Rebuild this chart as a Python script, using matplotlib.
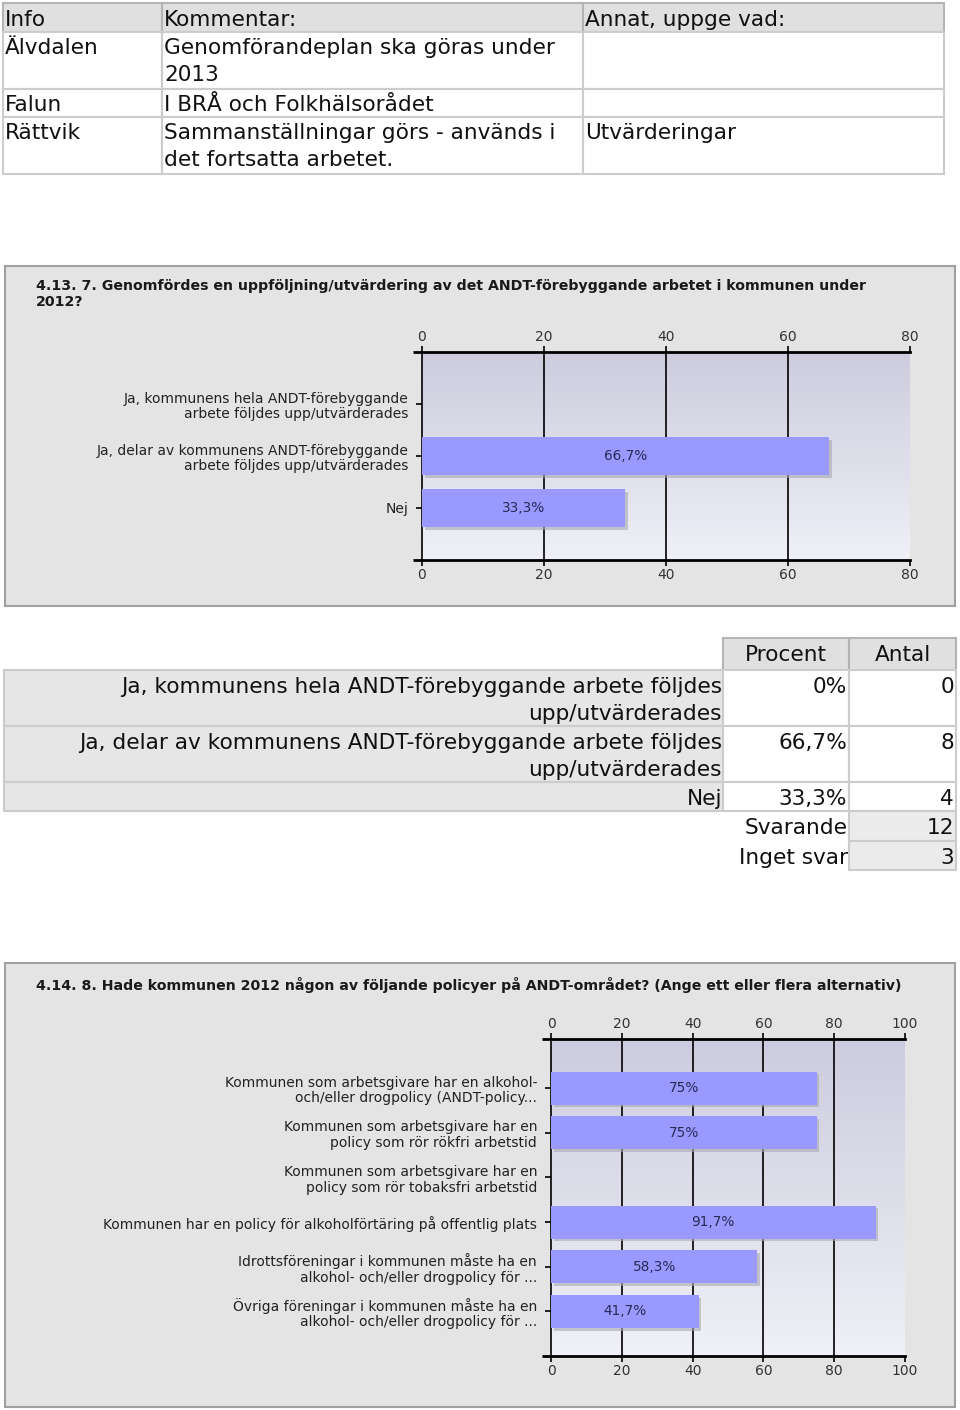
import numpy as np
import matplotlib
matplotlib.use("Agg")
import matplotlib.pyplot as plt
from matplotlib.patches import Rectangle
import matplotlib.patheffects as pe

plt.rcParams['font.family'] = ['DejaVu Sans']

# ---------------- data ----------------
info_header = ["Info", "Kommentar:", "Annat, uppge vad:"]
info_rows = [
    ["Älvdalen", "Genomförandeplan ska göras under\n2013", ""],
    ["Falun", "I BRÅ och Folkhälsorådet", ""],
    ["Rättvik", "Sammanställningar görs - används i\ndet fortsatta arbetet.", "Utvärderingar"],
]

q1_title = "4.13. 7. Genomfördes en uppföljning/utvärdering av det ANDT-förebyggande arbetet i kommunen under\n2012?"
q1_categories = ["Ja, kommunens hela ANDT-förebyggande\narbete följdes upp/utvärderades",
                 "Ja, delar av kommunens ANDT-förebyggande\narbete följdes upp/utvärderades",
                 "Nej"]
q1_values = [0.0, 66.7, 33.3]
q1_labels = ["", "66,7%", "33,3%"]
q1_ticks = [0, 20, 40, 60, 80]

q1_table_labels = ["Ja, kommunens hela ANDT-förebyggande arbete följdes\nupp/utvärderades",
                   "Ja, delar av kommunens ANDT-förebyggande arbete följdes\nupp/utvärderades",
                   "Nej"]
q1_table_pct = ["0%", "66,7%", "33,3%"]
q1_table_n = ["0", "8", "4"]
q1_summary_labels = ["Svarande", "Inget svar"]
q1_summary_values = ["12", "3"]

q2_title = "4.14. 8. Hade kommunen 2012 någon av följande policyer på ANDT-området? (Ange ett eller flera alternativ)"
q2_categories = ["Kommunen som arbetsgivare har en alkohol-\noch/eller drogpolicy (ANDT-policy...",
                 "Kommunen som arbetsgivare har en\npolicy som rör rökfri arbetstid",
                 "Kommunen som arbetsgivare har en\npolicy som rör tobaksfri arbetstid",
                 "Kommunen har en policy för alkoholförtäring på offentlig plats",
                 "Idrottsföreningar i kommunen måste ha en\nalkohol- och/eller drogpolicy för ...",
                 "Övriga föreningar i kommunen måste ha en\nalkohol- och/eller drogpolicy för ..."]
q2_values = [75.0, 75.0, 0.0, 91.7, 58.3, 41.7]
q2_labels = ["75%", "75%", "", "91,7%", "58,3%", "41,7%"]
q2_ticks = [0, 20, 40, 60, 80, 100]

# ---------------- figure ----------------
W, H = 960, 1410
fig = plt.figure(figsize=(W / 100, H / 100), dpi=100)
fig.patch.set_facecolor("white")
bg = fig.add_axes([0, 0, 1, 1])
bg.set_xlim(0, W)
bg.set_ylim(H, 0)
bg.axis("off")

TXT = 15.6
LINE = 27
BORDER = "#cccccc"
TCOL = "#111111"


def cell(x0, y0, x1, y1, fc, ec=BORDER, lw=1.5):
    bg.add_patch(Rectangle((x0, y0), x1 - x0, y1 - y0, facecolor=fc,
                           edgecolor=ec, linewidth=lw, zorder=1))


def lines(x, base, s, ha="left", fs=TXT, step=LINE, **kw):
    for k, ln in enumerate(s.split("\n")):
        if ln:
            bg.text(x, base + k * step, ln, fontsize=fs, ha=ha, va="baseline",
                    color=kw.pop("color", TCOL) if False else kw.get("color", TCOL),
                    fontweight=kw.get("fontweight", "normal"), zorder=3)


# ---------- top table ----------
cols = [3, 162, 583, 944]
rows = [3, 32, 89, 117, 174]
for j in range(3):
    cell(cols[j], rows[0], cols[j + 1], rows[1], "#e0e0e0", ec="#b4b4b4")
    lines(cols[j] + 2, rows[0] + 23, info_header[j])
for i, r in enumerate(info_rows):
    for j in range(3):
        cell(cols[j], rows[i + 1], cols[j + 1], rows[i + 2], "white")
        lines(cols[j] + 2, rows[i + 1] + 22, r[j])


# ---------- chart helper ----------
def gradient_bg(ax, xmax):
    t = np.linspace(0, 1, 256).reshape(256, 1, 1)
    top = np.array([0.80, 0.80, 0.87])
    bot = np.array([0.94, 0.94, 0.97])
    img = np.repeat(top + (bot - top) * t, 2, axis=1)
    y0, y1 = ax.get_ylim()
    ax.imshow(img, extent=[0, xmax, y0, y1], aspect="auto", zorder=0, origin="upper")


def bar_chart(frame, plot, title, title_base, cats, vals, labels, ticks, ylim, bar_h):
    fx0, fy0, fx1, fy1 = frame
    cell(fx0, fy0, fx1, fy1, "#e4e4e4", ec="#a0a0a0", lw=1.5)
    lines(fx0 + 31, title_base, title, fs=10.2, step=16, fontweight="bold", color="#1a1a1a")
    px0, py0, px1, py1 = plot
    # axis lines sticking out to the left
    bg.plot([px0 - 9, px0], [py0, py0], color="black", lw=2, zorder=2, solid_capstyle="butt")
    bg.plot([px0 - 9, px0], [py1, py1], color="black", lw=2, zorder=2, solid_capstyle="butt")
    ax = fig.add_axes([px0 / W, 1 - py1 / H, (px1 - px0) / W, (py1 - py0) / H])
    n = len(cats)
    ax.set_xlim(0, ticks[-1])
    ax.set_ylim(*ylim)
    gradient_bg(ax, ticks[-1])
    for t in ticks[1:-1]:
        ax.axvline(t, color="black", lw=1.2, zorder=1)
    y = np.arange(n)
    bars = ax.barh(y, vals, height=bar_h, color="#9999ff", zorder=3)
    for b in bars:
        b.set_path_effects([pe.SimplePatchShadow(offset=(2, -2), shadow_rgbFace="#a8a8b0", alpha=0.6),
                            pe.Normal()])
    for yi, v, lab in zip(y, vals, labels):
        if lab:
            ax.text(v / 2, yi, lab, ha="center", va="center", fontsize=9.8,
                    color="#2a2a55", zorder=4)
    ax.set_yticks(y)
    ax.set_yticklabels(cats, fontsize=10, color="#222222", linespacing=1.15)
    ax.tick_params(axis="y", length=4, width=1.2, color="black", pad=6)
    ax.set_xticks(ticks)
    ax.tick_params(axis="x", top=True, labeltop=True, bottom=True, labelbottom=True,
                   length=4, width=1.2, labelsize=10, labelcolor="#333333", pad=2)
    for s in ["top", "bottom"]:
        ax.spines[s].set_linewidth(2)
        ax.spines[s].set_color("black")
    ax.spines["left"].set_linewidth(1.2)
    ax.spines["left"].set_color("black")
    ax.spines["right"].set_visible(False)
    return ax


bar_chart((5, 266, 955, 606), (422, 352, 910, 560), q1_title, 290, q1_categories,
          q1_values, q1_labels, q1_ticks, (3.0, -1.0), 0.73)

# ---------- middle table ----------
lx0, c1, c2, c3 = 4, 723, 849, 956
hy0, hy1 = 638, 670
cell(c1, hy0, c2, hy1, "#e0e0e0", ec="#b4b4b4")
cell(c2, hy0, c3, hy1, "#e0e0e0", ec="#b4b4b4")
lines((c1 + c2) / 2, hy0 + 23, "Procent", ha="center")
lines((c2 + c3) / 2, hy0 + 23, "Antal", ha="center")
row_bounds = [670, 726, 782, 811]
for i in range(3):
    ya, yb = row_bounds[i], row_bounds[i + 1]
    cell(lx0, ya, c1, yb, "#e6e6e6")
    cell(c1, ya, c2, yb, "white")
    cell(c2, ya, c3, yb, "white")
    lines(c1 - 1, ya + 23, q1_table_labels[i], ha="right")
    lines(c2 - 2, ya + 23, q1_table_pct[i], ha="right")
    lines(c3 - 2, ya + 23, q1_table_n[i], ha="right")
sum_bounds = [811, 841, 870]
for i in range(2):
    ya, yb = sum_bounds[i], sum_bounds[i + 1]
    cell(c2, ya, c3, yb, "#ebebeb")
    lines(c2 - 1, ya + 23, q1_summary_labels[i], ha="right")
    lines(c3 - 2, ya + 23, q1_summary_values[i], ha="right")

bar_chart((5, 963, 955, 1407), (551, 1039, 905, 1356), q2_title, 990, q2_categories,
          q2_values, q2_labels, q2_ticks, (6.0, -1.1), 0.74)

fig.savefig("out.png", dpi=100, facecolor="white")
